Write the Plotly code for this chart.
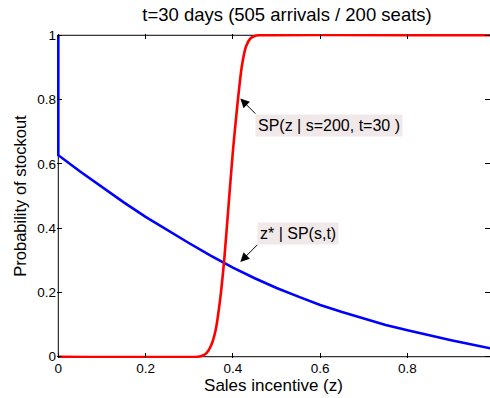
import plotly.graph_objects as go

# Data
z_blue = [0.0, 0.0, 0.05, 0.1, 0.15, 0.2, 0.25, 0.3, 0.35, 0.4, 0.45, 0.5, 0.55, 0.6, 0.65, 0.7, 0.75, 0.8, 0.85, 0.9, 0.95, 0.99]
p_blue = [1.0, 0.627, 0.576, 0.528, 0.480, 0.435, 0.393, 0.353, 0.314, 0.277, 0.244, 0.214, 0.187, 0.161, 0.139, 0.118, 0.099, 0.082, 0.066, 0.051, 0.037, 0.026]

z_red = [0.0, 0.32, 0.33, 0.34, 0.35, 0.36, 0.37, 0.38, 0.39, 0.40, 0.41, 0.42, 0.43, 0.44, 0.45, 0.46, 0.99]
p_red = [0.0, 0.0, 0.003, 0.012, 0.035, 0.08, 0.17, 0.30, 0.47, 0.64, 0.78, 0.90, 0.965, 0.99, 0.998, 1.0, 1.0]

x_ticks = [0, 0.2, 0.4, 0.6, 0.8]
y_ticks = [0, 0.2, 0.4, 0.6, 0.8, 1]

title_text = "t=30 days (505 arrivals / 200 seats)"
xlabel = "Sales incentive (z)"
ylabel = "Probability of stockout"

FONT = "Liberation Sans, Arial, sans-serif"

fig = go.Figure()
fig.add_trace(go.Scatter(x=z_blue, y=p_blue, mode="lines",
                         line=dict(color="#0000ff", width=2.6), showlegend=False))
fig.add_trace(go.Scatter(x=z_red, y=p_red, mode="lines",
                         line=dict(color="#ff0000", width=2.6, shape="spline", smoothing=0.5),
                         showlegend=False))

xmax = 0.989
# axes box (bottom, top, left)
for (x0, y0, x1, y1) in [(0, 0, xmax + 0.01, 0), (0, 1, xmax + 0.01, 1), (0, 0, 0, 1)]:
    fig.add_shape(type="line", xref="x", yref="y", x0=x0, y0=y0, x1=x1, y1=y1,
                  line=dict(color="black", width=1), layer="below")

fig.add_annotation(x=0.417, y=0.803, xref="x", yref="y", text="SP(z | s=200, t=30 )",
                   showarrow=True, ax=15, ay=15, xanchor="left", yanchor="top",
                   arrowhead=2, arrowsize=1.8, arrowwidth=1, arrowcolor="black",
                   bgcolor="#f1e9e9", borderpad=2,
                   font=dict(family=FONT, size=16, color="black"))
fig.add_annotation(x=0.417, y=0.295, xref="x", yref="y", text="z* | SP(s,t)",
                   showarrow=True, ax=17, ay=-17, xanchor="left", yanchor="bottom",
                   arrowhead=2, arrowsize=1.8, arrowwidth=1, arrowcolor="black",
                   bgcolor="#f1e9e9", borderpad=2,
                   font=dict(family=FONT, size=16, color="black"))

fig.update_layout(
    width=490, height=398,
    margin=dict(l=57, r=0, t=34, b=40),
    paper_bgcolor="white", plot_bgcolor="white",
    font=dict(family=FONT, size=13.5, color="black"),
    title=dict(text=title_text, x=287 / 490, xanchor="center", y=1 - 15 / 398,
               yanchor="middle", yref="container",
               font=dict(family=FONT, size=18.5, color="black")),
    xaxis=dict(range=[-0.003, xmax], tickvals=x_ticks, ticktext=[f"{v:g}" for v in x_ticks],
               ticks="inside", ticklen=5, tickcolor="black", mirror="ticks",
               showline=False, showgrid=False, zeroline=False,
               title=dict(text=xlabel, font=dict(family=FONT, size=17), standoff=4)),
    yaxis=dict(range=[-0.004, 1.004], tickvals=y_ticks, ticktext=[f"{v:g}" for v in y_ticks],
               ticks="inside", ticklen=5, tickcolor="black", mirror="ticks",
               showline=False, showgrid=False, zeroline=False,
               title=dict(text=ylabel, font=dict(family=FONT, size=16.5), standoff=6)),
)

fig.write_html("out.html")
